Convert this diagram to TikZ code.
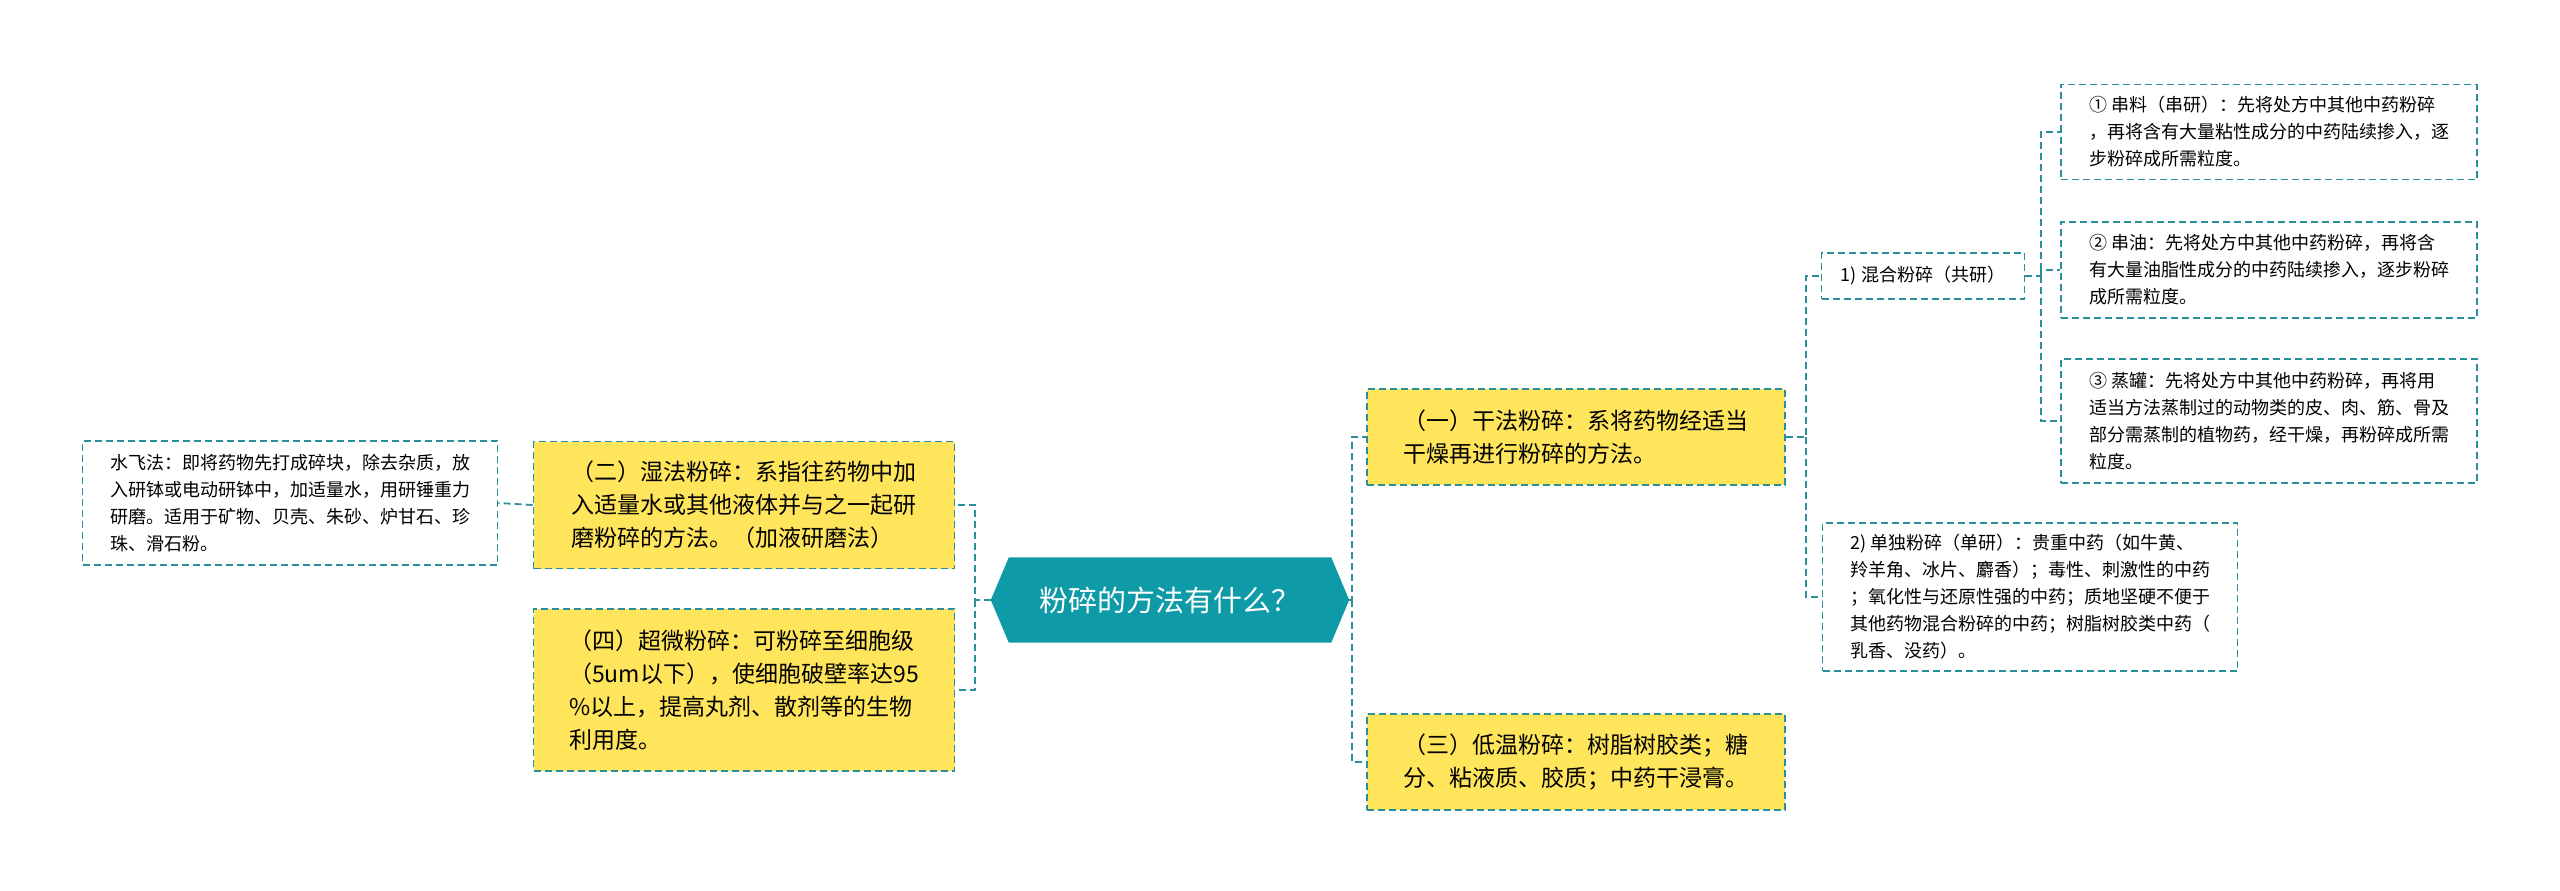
\documentclass[tikz,border=0pt]{standalone}
\usepackage{fontspec}
\setmainfont{Noto Sans CJK SC}
\usetikzlibrary{calc}
\definecolor{tealc}{HTML}{2A8F9A}
\definecolor{yel}{HTML}{FFE55C}
\definecolor{cent}{HTML}{0E9AA7}
\tikzset{
 x=1pt,y=-1pt,
 conn/.style={draw=tealc,line width=1.8pt,dash pattern=on 7pt off 4pt},
 ybox/.style={draw=tealc,fill=yel,line width=1.8pt,dash pattern=on 7pt off 4pt,inner sep=0pt,align=left,font=\fontsize{23}{33}\selectfont},
 wbox/.style={draw=tealc,fill=white,line width=1.8pt,dash pattern=on 7pt off 4pt,inner sep=0pt,align=left,font=\fontsize{18}{27}\selectfont},
}
\begin{document}
\begin{tikzpicture}
\useasboundingbox[fill=white] (0,0) rectangle (2560,891);
% center
\node[minimum width=358pt,minimum height=85pt,inner sep=0pt] (c) at (1170,600) {};
\fill[cent] ($(c.west)$) -- ($(c.north west)+(18,0)$) -- ($(c.north east)+(-18,0)$) -- (c.east) -- ($(c.south east)+(-18,0)$) -- ($(c.south west)+(18,0)$) -- cycle;
\node[text=white,font=\fontsize{29}{34}\selectfont] (ct) at (c) {粉碎的方法有什么？};
% yellow
\node[ybox,minimum width=418pt,minimum height=96pt] (A) at (1576,437) {（一）干法粉碎：系将药物经适当\\干燥再进行粉碎的方法。};
\node[ybox,minimum width=418pt,minimum height=96pt] (B) at (1576,762) {（三）低温粉碎：树脂树胶类；糖\\分、粘液质、胶质；中药干浸膏。};
\node[ybox,minimum width=421pt,minimum height=127pt] (C) at (744,505) {（二）湿法粉碎：系指往药物中加\\入适量水或其他液体并与之一起研\\磨粉碎的方法。（加液研磨法）};
\node[ybox,minimum width=421pt,minimum height=162pt] (D) at (744,690) {（四）超微粉碎：可粉碎至细胞级\\（5um以下），使细胞破壁率达95\\\%以上，提高丸剂、散剂等的生物\\利用度。};
% white
\node[wbox,minimum width=415pt,minimum height=124pt] (E) at (290,503) {水飞法：即将药物先打成碎块，除去杂质，放\\入研钵或电动研钵中，加适量水，用研锤重力\\研磨。适用于矿物、贝壳、朱砂、炉甘石、珍\\珠、滑石粉。};
\node[wbox,minimum width=203pt,minimum height=46pt] (F) at (1923,276) {1) 混合粉碎（共研）};
\node[wbox,minimum width=415pt,minimum height=148pt] (G) at (2030,597) {2) 单独粉碎（单研）：贵重中药（如牛黄、\\羚羊角、冰片、麝香）；毒性、刺激性的中药\\；氧化性与还原性强的中药；质地坚硬不便于\\其他药物混合粉碎的中药；树脂树胶类中药（\\乳香、没药）。};
\node[wbox,minimum width=416pt,minimum height=95pt] (H1) at (2269,132) {① 串料（串研）：先将处方中其他中药粉碎\\，再将含有大量粘性成分的中药陆续掺入，逐\\步粉碎成所需粒度。};
\node[wbox,minimum width=416pt,minimum height=96pt] (H2) at (2269,270) {② 串油：先将处方中其他中药粉碎，再将含\\有大量油脂性成分的中药陆续掺入，逐步粉碎\\成所需粒度。};
\node[wbox,minimum width=416pt,minimum height=124pt] (H3) at (2269,421) {③ 蒸罐：先将处方中其他中药粉碎，再将用\\适当方法蒸制过的动物类的皮、肉、筋、骨及\\部分需蒸制的植物药，经干燥，再粉碎成所需\\粒度。};
% connectors
\coordinate (tR) at (1352,600);
\coordinate (tL) at (975,600);
\coordinate (tA) at (1806,437);
\coordinate (tF) at (2041,276);
\draw[conn] (c.east) -- (tR) |- (A.west);
\draw[conn] (tR) |- (B.west);
\draw[conn] (c.west) -- (tL) |- (C.east);
\draw[conn] (tL) |- (D.east);
\draw[conn] (A.east) -- (tA) |- (F.west);
\draw[conn] (tA) |- (G.west);
\draw[conn] (F.east) -- (tF) |- (H1.west);
\draw[conn] (tF) |- (H2.west);
\draw[conn] (tF) |- (H3.west);
\draw[conn] (C.west) -- (E.east);
\end{tikzpicture}
\end{document}
